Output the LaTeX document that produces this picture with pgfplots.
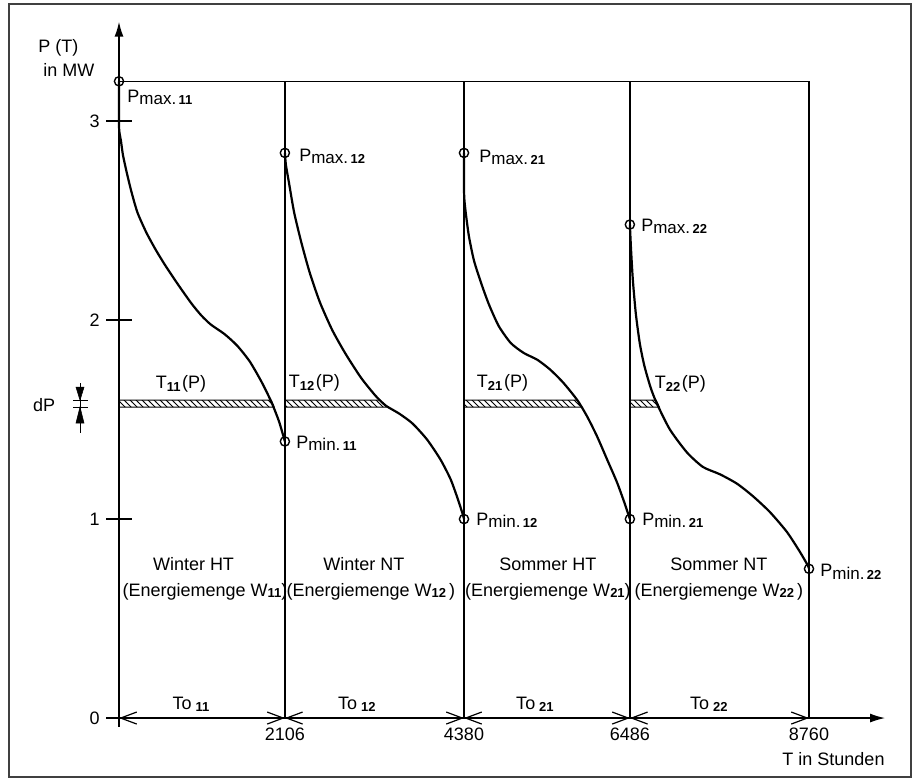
\documentclass[border=0pt]{standalone}
\usepackage{pgfplots}
\pgfplotsset{compat=1.18}
\usepackage{fontspec}
\setmainfont{Liberation Sans}
\usetikzlibrary{arrows.meta,patterns}

\newcommand{\subn}[1]{{\fontsize{6.5}{7}\selectfont\bfseries #1}}
\newcommand{\PL}[2]{P\raisebox{-1.4pt}{\fontsize{8.5}{9}\selectfont #1\hspace{1.2pt}\subn{#2}}}
\newcommand{\TL}[1]{T\raisebox{-1.8pt}{\subn{#1}}\hspace{0.8pt}(P)}
\newcommand{\TO}[1]{To\hspace{2pt}\raisebox{-1pt}{\subn{#1}}}
\newcommand{\WL}[1]{W\raisebox{-0.8pt}{\subn{#1}}}

\begin{document}
\begin{tikzpicture}[font=\fontsize{9}{11}\selectfont]
\begin{axis}[
  scale only axis, width=383pt, height=352.7pt,
  at={(0,0)}, anchor=south west,
  xmin=0, xmax=9725, ymin=-0.045, ymax=3.5,
  axis lines=middle,
  x axis line style={line width=0.6pt, -{Latex[length=7.5pt,width=4.5pt]}},
  y axis line style={line width=0.8pt, -{Latex[length=7.5pt,width=4.5pt]}},
  clip=false,
  xtick={2106,4380,6486,8760},
  xticklabels={2106,4380,6486,8760},
  xtick style={draw=none},
  ytick={0,1,2,3},
  yticklabels={0,1,2,3},
  tick align=center,
  major tick length=13pt,
  ytick style={line width=0.6pt, black},
  hide obscured y ticks=false,
  tick label style={font=\fontsize{9}{11}\selectfont},
  /pgf/number format/assume math mode=true,
  xticklabel style={anchor=north, inner sep=0pt, yshift=2pt},
  yticklabel style={anchor=east, inner sep=0pt, xshift=-3pt},
]
% frame lines of the four periods
\addplot[line width=0.6pt] coordinates {(0,3.2) (8760,3.2) (8760,0)};
\addplot[line width=0.7pt] coordinates {(2106,0) (2106,3.2)};
\addplot[line width=0.7pt] coordinates {(4380,0) (4380,3.2)};
\addplot[line width=0.7pt] coordinates {(6486,0) (6486,3.2)};

% hatched bands dP
\addplot[line width=0.5pt, pattern=north west lines] coordinates {(0,1.563) (0,1.598) (1932,1.598) (1970,1.563)} -- cycle;
\addplot[line width=0.5pt, pattern=north west lines] coordinates {(2106,1.563) (2106,1.598) (3314,1.598) (3405,1.563)} -- cycle;
\addplot[line width=0.5pt, pattern=north west lines] coordinates {(4380,1.563) (4380,1.598) (5818,1.598) (5871,1.563)} -- cycle;
\addplot[line width=0.5pt, pattern=north west lines] coordinates {(6486,1.563) (6486,1.598) (6818,1.598) (6861,1.563)} -- cycle;

% duration curves
\addplot[line width=1.1pt, smooth, tension=0.4] coordinates {
(0,3.20) (0,2.97) (25,2.90) (50,2.83) (99,2.74) (161,2.64) (235,2.54) (347,2.44)
(471,2.35) (595,2.27) (756,2.175) (917,2.085) (1041,2.025) (1164,1.978) (1338,1.93)
(1499,1.872) (1660,1.792) (1809,1.69) (1933,1.59) (2032,1.49) (2106,1.39)};
\addplot[line width=1.1pt, smooth, tension=0.4] coordinates {
(2106,2.84) (2119,2.78) (2158,2.69) (2224,2.54) (2315,2.39) (2420,2.24) (2550,2.09)
(2707,1.95) (2877,1.83) (3073,1.71) (3256,1.62) (3387,1.57) (3557,1.53) (3727,1.48)
(3910,1.40) (4080,1.30) (4210,1.20) (4302,1.10) (4367,1.02) (4380,1.00)};
\addplot[line width=1.1pt, smooth, tension=0.4] coordinates {
(4380,2.84) (4380,2.66) (4386,2.60) (4405,2.53) (4443,2.42) (4506,2.30) (4594,2.19) (4695,2.08)
(4821,1.97) (4973,1.885) (5137,1.835) (5313,1.80) (5477,1.75) (5641,1.685) (5818,1.598)
(5944,1.515) (6070,1.415) (6196,1.30) (6322,1.185) (6423,1.075) (6486,1.00)};
\addplot[line width=1.1pt, smooth, tension=0.4] coordinates {
(6486,2.48) (6500,2.36) (6524,2.20) (6562,2.03) (6613,1.88) (6670,1.77) (6750,1.66)
(6829,1.58) (6994,1.45) (7210,1.335) (7413,1.262) (7629,1.225) (7845,1.178) (8048,1.115)
(8264,1.035) (8480,0.935) (8645,0.835) (8747,0.765) (8760,0.75)};
% vertical drops
\addplot[line width=1.1pt] coordinates {(2106,1.39) (2106,0)};
\addplot[line width=1.1pt] coordinates {(4380,1.00) (4380,0)};
\addplot[line width=1.1pt] coordinates {(6486,1.00) (6486,0)};
\addplot[line width=1.1pt] coordinates {(8760,0.75) (8760,0)};

% dimension arrows on T axis
\addplot[line width=0.6pt, {Straight Barb[length=8pt,width=6pt]}-{Straight Barb[length=8pt,width=6pt]}] coordinates {(0,0) (2106,0)};
\addplot[line width=0.6pt, {Straight Barb[length=8pt,width=6pt]}-{Straight Barb[length=8pt,width=6pt]}] coordinates {(2106,0) (4380,0)};
\addplot[line width=0.6pt, {Straight Barb[length=8pt,width=6pt]}-{Straight Barb[length=8pt,width=6pt]}] coordinates {(4380,0) (6486,0)};
\addplot[line width=0.6pt, {Straight Barb[length=8pt,width=6pt]}-{Straight Barb[length=8pt,width=6pt]}] coordinates {(6486,0) (8760,0)};

% dP marker
\addplot[line width=0.5pt] coordinates {(-495,1.683) (-495,1.432)};
\addplot[line width=0.5pt] coordinates {(-584,1.598) (-394,1.598)};
\addplot[line width=0.5pt] coordinates {(-584,1.563) (-394,1.563)};
\addplot[fill=black, draw=black, line width=0.3pt] coordinates {(-546,1.663) (-444,1.663) (-495,1.598)} -- cycle;
\addplot[fill=black, draw=black, line width=0.3pt] coordinates {(-546,1.482) (-444,1.482) (-495,1.563)} -- cycle;

% Pmax / Pmin circles
\addplot[only marks, mark=o, mark size=2.3pt, mark options={line width=0.7pt}] coordinates {
(0,3.2) (2106,2.84) (4380,2.84) (6486,2.48) (2106,1.39) (4380,1.00) (6486,1.00) (8760,0.75)};

% labels
\node[anchor=west, inner sep=0pt] at (-1028,3.367) {P (T)};
\node[anchor=west, inner sep=0pt] at (-965,3.256) {in MW};
\node[anchor=center] at (-952,1.573) {dP};

\node[anchor=base west, inner sep=0pt] at (102,3.095) {\PL{max.}{11}};
\node[anchor=base west, inner sep=0pt] at (2284,2.799) {\PL{max.}{12}};
\node[anchor=base west, inner sep=0pt] at (4570,2.794) {\PL{max.}{21}};
\node[anchor=base west, inner sep=0pt] at (6626,2.447) {\PL{max.}{22}};
\node[anchor=base west, inner sep=0pt] at (2246,1.357) {\PL{min.}{11}};
\node[anchor=base west, inner sep=0pt] at (4532,0.970) {\PL{min.}{12}};
\node[anchor=base west, inner sep=0pt] at (6638,0.970) {\PL{min.}{21}};
\node[anchor=base west, inner sep=0pt] at (8900,0.709) {\PL{min.}{22}};

\node[anchor=base, inner sep=0pt] at (787,1.658) {\TL{11}};
\node[anchor=base, inner sep=0pt] at (2481,1.663) {\TL{12}};
\node[anchor=base, inner sep=0pt] at (4869,1.663) {\TL{21}};
\node[anchor=base, inner sep=0pt] at (7127,1.658) {\TL{22}};

\node[anchor=base, inner sep=0pt] at (946,0.739) {Winter HT};
\node[anchor=base, inner sep=0pt] at (1092,0.613) {(Energiemenge \WL{11})};
\node[anchor=base, inner sep=0pt] at (3109,0.739) {Winter NT};
\node[anchor=base, inner sep=0pt] at (3198,0.613) {(Energiemenge \WL{12}\,)};
\node[anchor=base, inner sep=0pt] at (5446,0.739) {Sommer HT};
\node[anchor=base, inner sep=0pt] at (5446,0.613) {(Energiemenge \WL{21})};
\node[anchor=base, inner sep=0pt] at (7616,0.739) {Sommer NT};
\node[anchor=base, inner sep=0pt] at (7616,0.613) {(Energiemenge \WL{22}\,)};

\node[anchor=base, inner sep=0pt] at (914,0.045) {\TO{11}};
\node[anchor=base, inner sep=0pt] at (3020,0.045) {\TO{12}};
\node[anchor=base, inner sep=0pt] at (5281,0.045) {\TO{21}};
\node[anchor=base, inner sep=0pt] at (7489,0.045) {\TO{22}};

\node[anchor=base east, inner sep=0pt] at (9724,-0.236) {T in Stunden};
\end{axis}
\pgfresetboundingbox
\path[use as bounding box] (-59.5pt,-26.5pt) rectangle (397.5pt,363.5pt);
\draw[line width=1pt, black!75] (-55pt,-25pt) rectangle (396pt,361.5pt);
\end{tikzpicture}
\end{document}
